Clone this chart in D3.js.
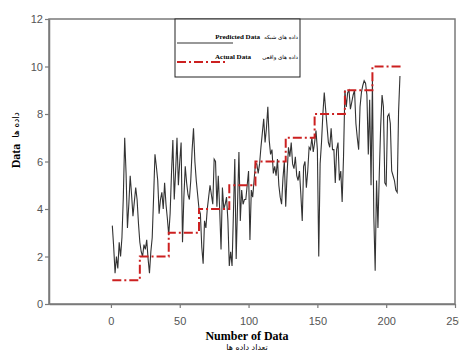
<!DOCTYPE html>
<html>
<head>
<meta charset="utf-8">
<script src="https://cdn.jsdelivr.net/npm/d3@7"></script>
<style>
  body { margin: 0; background: #fff; }
  svg { display: block; }
</style>
</head>
<body>
<div id="chart"></div>
<script>
// predicted values, sample 1..210
const predicted = [
  3.3, 2.4, 1.3, 2.0, 1.5, 2.6, 2.0, 2.8, 4.5, 7.0,
  5.5, 3.2, 4.2, 5.4, 4.6, 3.7, 4.3, 4.9, 4.4, 3.4,
  2.6, 2.2, 2.0, 2.5, 2.3, 2.7, 1.9, 1.3, 2.2, 2.8,
  4.5, 6.3, 5.8, 5.2, 3.8, 4.4, 4.7, 4.0, 5.1, 4.2,
  3.6, 2.9, 3.8, 5.5, 6.9, 4.4, 5.6, 7.0, 5.0, 6.0,
  6.8, 2.6, 4.5, 5.8, 5.1, 4.6, 4.4, 5.2, 6.5, 7.4,
  6.0, 5.2, 4.6, 4.0, 3.8, 2.4, 1.7, 3.5, 3.2, 4.0,
  4.5, 5.0, 4.6, 4.2, 6.1, 6.0, 4.1, 5.4, 4.0, 2.3,
  4.9, 4.0, 4.2, 4.5, 3.5, 1.6, 2.2, 1.6, 3.8, 6.1,
  1.9, 4.2, 6.4, 3.5, 4.8, 4.2, 4.4, 4.4, 5.0, 5.6,
  2.7, 4.8, 4.5, 5.2, 5.9, 5.9, 5.5, 5.9, 6.6, 7.2,
  7.8, 6.8, 7.4, 8.3, 6.9, 6.3, 6.5, 5.5, 5.8, 5.4,
  6.1, 5.0, 4.5, 4.2, 5.3, 6.0, 4.1, 5.5, 6.6, 6.2,
  6.8, 5.9, 5.7, 6.2, 5.4, 5.2, 5.6, 4.6, 3.5, 5.8,
  6.0, 4.9, 5.6, 6.6, 6.5, 7.0, 6.4, 6.8, 7.3, 6.5,
  2.0, 5.9, 6.8, 8.0, 8.9, 8.2, 7.5, 6.8, 6.6, 7.4,
  6.5, 6.5, 5.1, 6.5, 6.8, 5.2, 5.6, 4.3, 6.2, 9.0,
  8.3, 8.9, 9.0, 8.2, 8.5, 8.8, 9.0, 7.6, 7.0, 6.5,
  8.3, 8.9, 9.2, 9.4, 9.3, 8.8, 6.3, 8.6, 5.0, 9.4,
  3.7, 1.4, 5.2, 3.2, 5.5, 7.5, 8.8, 8.3, 5.1, 5.0,
  7.9, 8.0, 7.6, 5.6, 5.4, 5.2, 4.8, 4.7, 8.1, 9.6
];

// actual data: class level and the sample where each level starts
const actualLevels = [1, 2, 3, 4, 5, 6, 7, 8, 9, 10];
const actualStarts = [1, 21, 42, 64, 86, 105, 127, 148, 170, 190];
const actualEnd = 211;

const xTicks = [0, 50, 100, 150, 200, 250];
const yTicks = [0, 2, 4, 6, 8, 10, 12];

const width = 459, height = 353;
const margin = {top: 19, right: 4, bottom: 49, left: 49};

const svg = d3.select("#chart").append("svg")
  .attr("width", width)
  .attr("height", height);

const x = d3.scaleLinear().domain([-45, 250]).range([margin.left, width - margin.right]);
const y = d3.scaleLinear().domain([0, 12]).range([height - margin.bottom, margin.top]);

// frame
svg.append("rect")
  .attr("x", x(-45)).attr("y", y(12))
  .attr("width", x(250) - x(-45)).attr("height", y(0) - y(12))
  .style("fill", "none").style("stroke", "#7a7a7a").style("stroke-width", 1.5);

// axes
const xAxis = svg.append("g")
  .attr("transform", `translate(0,${y(0)})`)
  .call(d3.axisBottom(x).tickValues(xTicks).tickSize(4).tickSizeOuter(0));
const yAxis = svg.append("g")
  .attr("transform", `translate(${x(-45)},0)`)
  .call(d3.axisLeft(y).tickValues(yTicks).tickSize(4).tickSizeOuter(0));

[xAxis, yAxis].forEach(g => {
  g.select(".domain").style("stroke", "#7a7a7a").style("stroke-width", 1.5);
  g.selectAll(".tick line").style("stroke", "#7a7a7a").style("stroke-width", 1.2);
  g.selectAll(".tick text")
    .style("font-family", "'Liberation Sans', Arial, sans-serif")
    .style("font-size", "11px")
    .style("fill", "#555");
});
xAxis.selectAll(".tick text").attr("dy", "1.3em");
yAxis.selectAll(".tick text").attr("x", -6);

// predicted line
const predLine = d3.line()
  .x((d, i) => x(i + 1))
  .y(d => y(d));

svg.append("path")
  .datum(predicted)
  .attr("d", predLine)
  .style("fill", "none")
  .style("stroke", "#333")
  .style("stroke-width", 1.1);

// actual step line
const actualPts = actualLevels.map((v, i) => [actualStarts[i], v]);
actualPts.push([actualEnd, actualLevels[actualLevels.length - 1]]);

const stepLine = d3.line()
  .x(d => x(d[0]))
  .y(d => y(d[1]))
  .curve(d3.curveStepAfter);

svg.append("path")
  .datum(actualPts)
  .attr("d", stepLine)
  .style("fill", "none")
  .style("stroke", "#cc2020")
  .style("stroke-width", 2)
  .style("stroke-dasharray", "9,3,2,3");

// axis titles
svg.append("text")
  .attr("x", 247).attr("y", 340)
  .attr("text-anchor", "middle")
  .style("font-family", "'Liberation Serif', 'Times New Roman', serif")
  .style("font-weight", "bold")
  .style("font-size", "12px")
  .text("Number of Data");
svg.append("text")
  .attr("x", 247).attr("y", 350)
  .attr("text-anchor", "middle")
  .style("font-family", "'DejaVu Sans', sans-serif")
  .style("font-size", "8px")
  .text("تعداد داده ها");

const yTitle = svg.append("g").attr("transform", "translate(20,150) rotate(-90)");
yTitle.append("text")
  .attr("x", -6).attr("y", 0)
  .attr("text-anchor", "middle")
  .style("font-family", "'Liberation Serif', 'Times New Roman', serif")
  .style("font-weight", "bold")
  .style("font-size", "12px")
  .text("Data");
yTitle.append("text")
  .attr("x", 25).attr("y", -1)
  .attr("text-anchor", "middle")
  .style("font-family", "'DejaVu Sans', sans-serif")
  .style("font-size", "9px")
  .text("داده ها");

// legend
const legend = svg.append("g");
legend.append("rect")
  .attr("x", 175).attr("y", 19)
  .attr("width", 125).attr("height", 58)
  .style("fill", "#fff").style("stroke", "#222").style("stroke-width", 1);

legend.append("line")
  .attr("x1", 177).attr("x2", 233).attr("y1", 43).attr("y2", 43)
  .style("stroke", "#333").style("stroke-width", 1.2);
legend.append("line")
  .attr("x1", 177).attr("x2", 226).attr("y1", 62).attr("y2", 62)
  .style("stroke", "#cc2020").style("stroke-width", 2)
  .style("stroke-dasharray", "9,3,2,3");

const legendRows = [
  {en: "Predicted Data", xEn: 260, y: 39, fa: "داده های شبکه"},
  {en: "Actual Data", xEn: 251, y: 59, fa: "داده های واقعی"}
];
legendRows.forEach(r => {
  legend.append("text")
    .attr("x", r.xEn).attr("y", r.y)
    .attr("text-anchor", "end")
    .style("font-family", "'Liberation Serif', 'Times New Roman', serif")
    .style("font-weight", "bold")
    .style("font-size", "7px")
    .text(r.en);
  legend.append("text")
    .attr("x", 298).attr("y", r.y)
    .attr("text-anchor", "end")
    .style("font-family", "'DejaVu Sans', sans-serif")
    .style("font-size", "5.5px")
    .text(r.fa);
});
</script>
</body>
</html>
